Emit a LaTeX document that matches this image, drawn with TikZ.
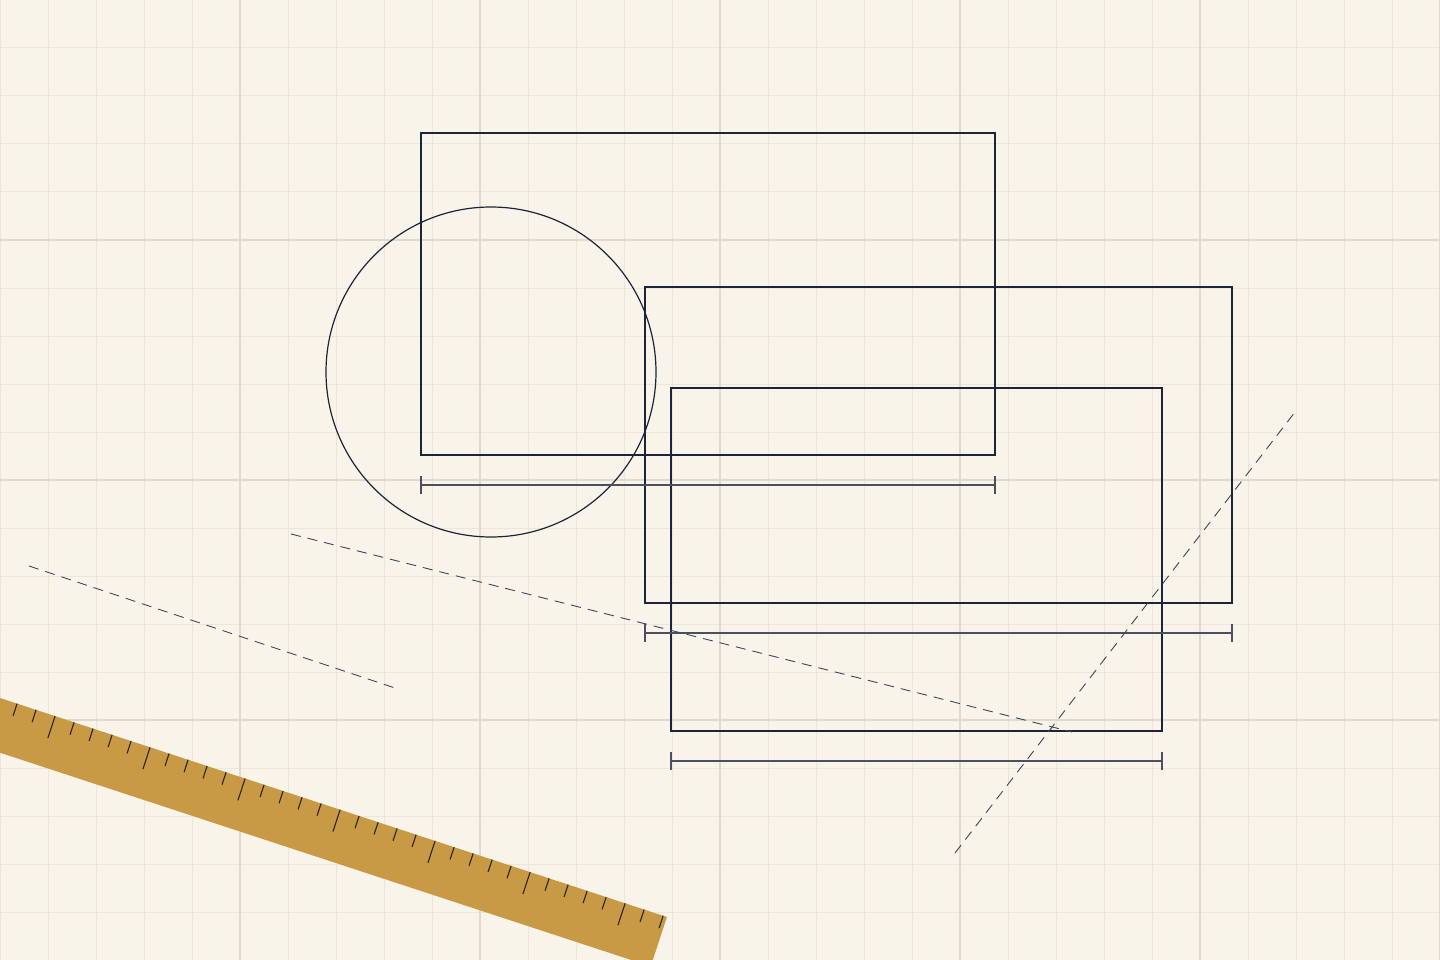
\documentclass[tikz,border=0pt]{standalone}
\usetikzlibrary{calc}
\definecolor{paper}{HTML}{F9F4EA}
\definecolor{gridminor}{HTML}{EEE5DA}
\definecolor{gridmajor}{HTML}{E2D8CD}
\definecolor{ink}{HTML}{1A2539}
\definecolor{dimgray}{HTML}{4A5060}
\definecolor{rulerfill}{HTML}{C89A45}
\definecolor{tickink}{HTML}{2A2622}
\tikzset{
  shapeline/.style={draw=ink, line width=2.1pt},
  shapethick/.style={draw=ink, line width=2.7pt},
  circleline/.style={draw=ink, line width=1.2pt},
  dimline/.style={draw=dimgray, line width=1.7pt},
  guide/.style={draw=ink!85, line width=0.9pt, dash pattern=on 10pt off 7pt},
  rulertick/.style={draw=tickink, line width=1.1pt},
}
\begin{document}
\begin{tikzpicture}[x=1pt,y=-1pt]
\useasboundingbox (0,0) rectangle (1440,960);
\fill[paper] (0,0) rectangle (1440,960);
% grid
\foreach \g in {0,48,...,1440} {\draw[gridminor, line width=1pt] (\g,0) -- (\g,960);}
\foreach \g in {0,48,...,960} {\draw[gridminor, line width=1pt] (0,\g) -- (1440,\g);}
\foreach \g in {240,480,...,1440} {\draw[gridmajor, line width=1.3pt] (\g,0) -- (\g,960);}
\foreach \g in {240,480,720} {\draw[gridmajor, line width=1.3pt] (0,\g) -- (1440,\g);}
% ruler
\begin{scope}[shift={(0,698)}, rotate=-18.18]
  \fill[rulerfill] (-120,0) rectangle (702,52);
  \foreach \s in {-2,18,...,698} {
    \pgfmathtruncatemacro{\m}{mod(round(\s+142),100)}
    \ifnum\m=0
      \draw[rulertick] (\s,0) -- (\s,23);
    \else
      \draw[rulertick] (\s,0) -- (\s,13);
    \fi
  }
\end{scope}
% shapes
\node[shapeline, rectangle, minimum width=574pt, minimum height=322pt, inner sep=0pt] (r1) at (708,294) {};
\node[circleline, circle, minimum size=330pt, inner sep=0pt] (c1) at (491,372) {};
\node[shapeline, rectangle, minimum width=587pt, minimum height=316pt, inner sep=0pt] (r2) at (938.5,445) {};
\node[shapethick, rectangle, minimum width=491pt, minimum height=343pt, inner sep=0pt] (r3) at (916.5,559.5) {};
% dimension lines
\coordinate (d1a) at (421,485); \coordinate (d1b) at (995,485);
\coordinate (d2a) at (645,633); \coordinate (d2b) at (1232,633);
\coordinate (d3a) at (671,761); \coordinate (d3b) at (1162,761);
\foreach \a/\b in {d1a/d1b,d2a/d2b,d3a/d3b} {
  \draw[dimline] (\a) -- (\b);
  \draw[dimline] ($(\a)+(0,-9)$) -- ($(\a)+(0,9)$);
  \draw[dimline] ($(\b)+(0,-9)$) -- ($(\b)+(0,9)$);
}
% guide lines
\coordinate (g1a) at (29,566); \coordinate (g1b) at (395,688);
\coordinate (g2a) at (291,534); \coordinate (g2b) at (1072,732);
\coordinate (g3a) at (955,853); \coordinate (g3b) at (1295,412);
\draw[guide] (g1a) -- (g1b);
\draw[guide] (g2a) -- (g2b);
\draw[guide] (g3a) -- (g3b);
\end{tikzpicture}
\end{document}
